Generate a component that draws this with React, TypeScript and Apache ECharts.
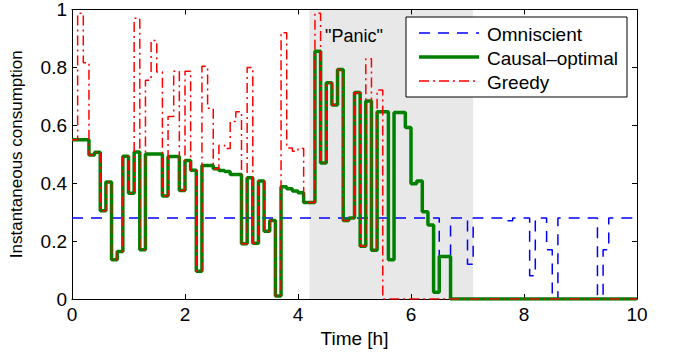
import React, { useEffect, useRef } from "react";
import * as echarts from "echarts";

// Time breakpoints (h) and the value held from each breakpoint to the next
const omniTimes = [0, 6.5, 6.7, 7.0, 7.1, 7.7, 7.8, 8.1, 8.2, 8.4, 8.5, 8.6, 9.3, 9.4, 9.5, 10];
const omniValues = [0.28, 0.147, 0.28, 0.12, 0.28, 0.27, 0.28, 0.08, 0.28, 0.17, 0.0, 0.28, 0.01, 0.17, 0.28, 0.28];

const causalTimes = [0, 0.3, 0.4, 0.5, 0.6, 0.7, 0.8, 0.9, 1.0, 1.1, 1.2, 1.3, 1.6, 1.7, 1.9, 2.0, 2.1, 2.2, 2.3, 2.5,
  2.6, 2.7, 2.8, 3.0, 3.1, 3.2, 3.3, 3.4, 3.5, 3.6, 3.7, 3.8, 3.9, 4.0, 4.1, 4.3, 4.4, 4.5, 4.6, 4.7,
  4.8, 4.9, 5.0, 5.1, 5.2, 5.3, 5.4, 5.6, 5.7, 5.9, 6.0, 6.1, 6.2, 6.3, 6.4, 6.5, 6.7, 10];
const causalValues = [0.55, 0.497, 0.507, 0.305, 0.404, 0.136, 0.164, 0.493, 0.365, 0.508, 0.17, 0.501, 0.356, 0.492, 0.375, 0.478, 0.445, 0.096, 0.461, 0.45,
  0.444, 0.44, 0.43, 0.191, 0.419, 0.193, 0.408, 0.234, 0.271, 0.01, 0.388, 0.381, 0.373, 0.367, 0.333, 0.856, 0.47, 0.747, 0.67, 0.793,
  0.271, 0.28, 0.713, 0.182, 0.684, 0.168, 0.647, 0.136, 0.644, 0.592, 0.398, 0.408, 0.301, 0.256, 0.023, 0.147, 0, 0];

const greedyTimes = [0, 0.1, 0.2, 0.3, 0.4, 0.5, 0.6, 0.7, 0.8, 0.9, 1.0, 1.1, 1.2, 1.3, 1.4, 1.5, 1.6, 1.7, 1.8, 1.9,
  2.0, 2.1, 2.2, 2.3, 2.4, 2.5, 2.6, 2.7, 2.8, 2.9, 3.0, 3.1, 3.2, 3.3, 3.4, 3.5, 3.6, 3.7, 3.8, 3.9,
  4.0, 4.1, 4.3, 4.4, 4.5, 4.6, 4.7, 4.8, 4.9, 5.0, 5.1, 5.2, 5.3, 5.4, 5.5, 10];
const greedyValues = [0.55, 0.987, 0.816, 0.497, 0.507, 0.305, 0.404, 0.136, 0.164, 0.493, 0.365, 0.97, 0.17, 0.756, 0.893, 0.784, 0.356, 0.63, 0.787, 0.375,
  0.787, 0.445, 0.096, 0.804, 0.659, 0.45, 0.531, 0.52, 0.613, 0.647, 0.191, 0.8, 0.193, 0.408, 0.234, 0.271, 0.01, 0.92, 0.522, 0.51,
  0.52, 0.333, 0.987, 0.47, 0.747, 0.67, 0.793, 0.271, 0.28, 0.713, 0.182, 0.83, 0.168, 0.722, 0, 0];

const panicRange = [4.2, 7.1];
const xTicks = { min: 0, max: 10, interval: 2 };
const yTicks = { min: 0, max: 1, interval: 0.2 };
const seriesNames = ["Omniscient", "Causal\u2013optimal", "Greedy"];

const FONT = "Liberation Sans, Arial, Helvetica, sans-serif";

const pairs = (ts: number[], vs: number[]) => ts.map((t, i) => [t, vs[i]]);

export default function App() {
  const ref = useRef<HTMLDivElement>(null);
  useEffect(() => {
    if (!ref.current) return;
    const chart = echarts.init(ref.current, undefined, { renderer: "svg" });
    const axisCommon = {
      z: 2,
      splitLine: { show: false },
      axisLine: { show: true, onZero: false, lineStyle: { color: "#000", width: 1 } },
      axisTick: { show: true, inside: true, length: 5, lineStyle: { color: "#000", width: 1 } },
    };
    const legendX = 406, legendY = 17;
    const rows = [33, 57, 81];
    const option: any = {
      animation: false,
      textStyle: { fontFamily: FONT },
      grid: { left: 72, right: 41, top: 7, bottom: 57, containLabel: false },
      xAxis: [
        {
          ...axisCommon, type: "value", position: "bottom", ...xTicks,
          axisLabel: { color: "#000", fontSize: 19, margin: 6, fontFamily: FONT },
          name: "Time [h]", nameLocation: "middle", nameGap: 30,
          nameTextStyle: { color: "#000", fontSize: 19, fontFamily: FONT },
        },
        { ...axisCommon, type: "value", position: "top", ...xTicks, axisLabel: { show: false } },
      ],
      yAxis: [
        {
          ...axisCommon, type: "value", position: "left", ...yTicks,
          axisLabel: {
            color: "#000", fontSize: 19, margin: 5, fontFamily: FONT,
            formatter: (v: number) => String(parseFloat(v.toFixed(1))),
          },
          name: "Instantaneous consumption", nameLocation: "middle", nameGap: 47,
          nameTextStyle: { color: "#000", fontSize: 17, fontFamily: FONT },
        },
        { ...axisCommon, type: "value", position: "right", ...yTicks, axisLabel: { show: false } },
      ],
      series: [
        {
          type: "line", z: 1, data: [], silent: true,
          markArea: {
            silent: true,
            itemStyle: { color: "#e8e8e8" },
            data: [[{ xAxis: panicRange[0] }, { xAxis: panicRange[1] }]],
          },
        },
        {
          name: seriesNames[0], type: "line", z: 3, step: "end", symbol: "none",
          data: pairs(omniTimes, omniValues),
          lineStyle: { color: "#0000ff", width: 1.5, type: [11, 8] },
        },
        {
          name: seriesNames[1], type: "line", z: 4, step: "end", symbol: "none",
          data: pairs(causalTimes, causalValues),
          lineStyle: { color: "#008000", width: 3.5, type: "solid" },
        },
        {
          name: seriesNames[2], type: "line", z: 5, step: "end", symbol: "none",
          data: pairs(greedyTimes, greedyValues),
          lineStyle: { color: "#ff0000", width: 1.5, type: [10, 4, 2, 4] },
        },
      ],
      graphic: [
        {
          type: "text", z: 50,
          style: { text: "\"Panic\"", x: 354, y: 36, fontSize: 18, fontFamily: FONT, fill: "#000", textAlign: "center", textVerticalAlign: "middle" },
        },
        {
          type: "rect", z: 100, shape: { x: legendX, y: legendY, width: 221, height: 80 },
          style: { fill: "#fff", stroke: "#000", lineWidth: 1 },
        },
        {
          type: "line", z: 101, shape: { x1: 419, y1: rows[0], x2: 479, y2: rows[0] },
          style: { stroke: "#0000ff", lineWidth: 1.5, lineDash: [11, 8] },
        },
        {
          type: "line", z: 101, shape: { x1: 419, y1: rows[1], x2: 479, y2: rows[1] },
          style: { stroke: "#008000", lineWidth: 3.5 },
        },
        {
          type: "line", z: 101, shape: { x1: 419, y1: rows[2], x2: 479, y2: rows[2] },
          style: { stroke: "#ff0000", lineWidth: 1.5, lineDash: [10, 4, 2, 4] },
        },
        ...seriesNames.map((n, i) => ({
          type: "text", z: 101,
          style: { text: n, x: 487, y: rows[i] + 1, fontSize: 19, fontFamily: FONT, fill: "#000", textAlign: "left", textVerticalAlign: "middle" },
        })),
      ],
    };
    chart.setOption(option);
    return () => chart.dispose();
  }, []);
  return <div ref={ref} style={{ width: 678, height: 356, position: "absolute", left: 0, top: 0 }} />;
}
